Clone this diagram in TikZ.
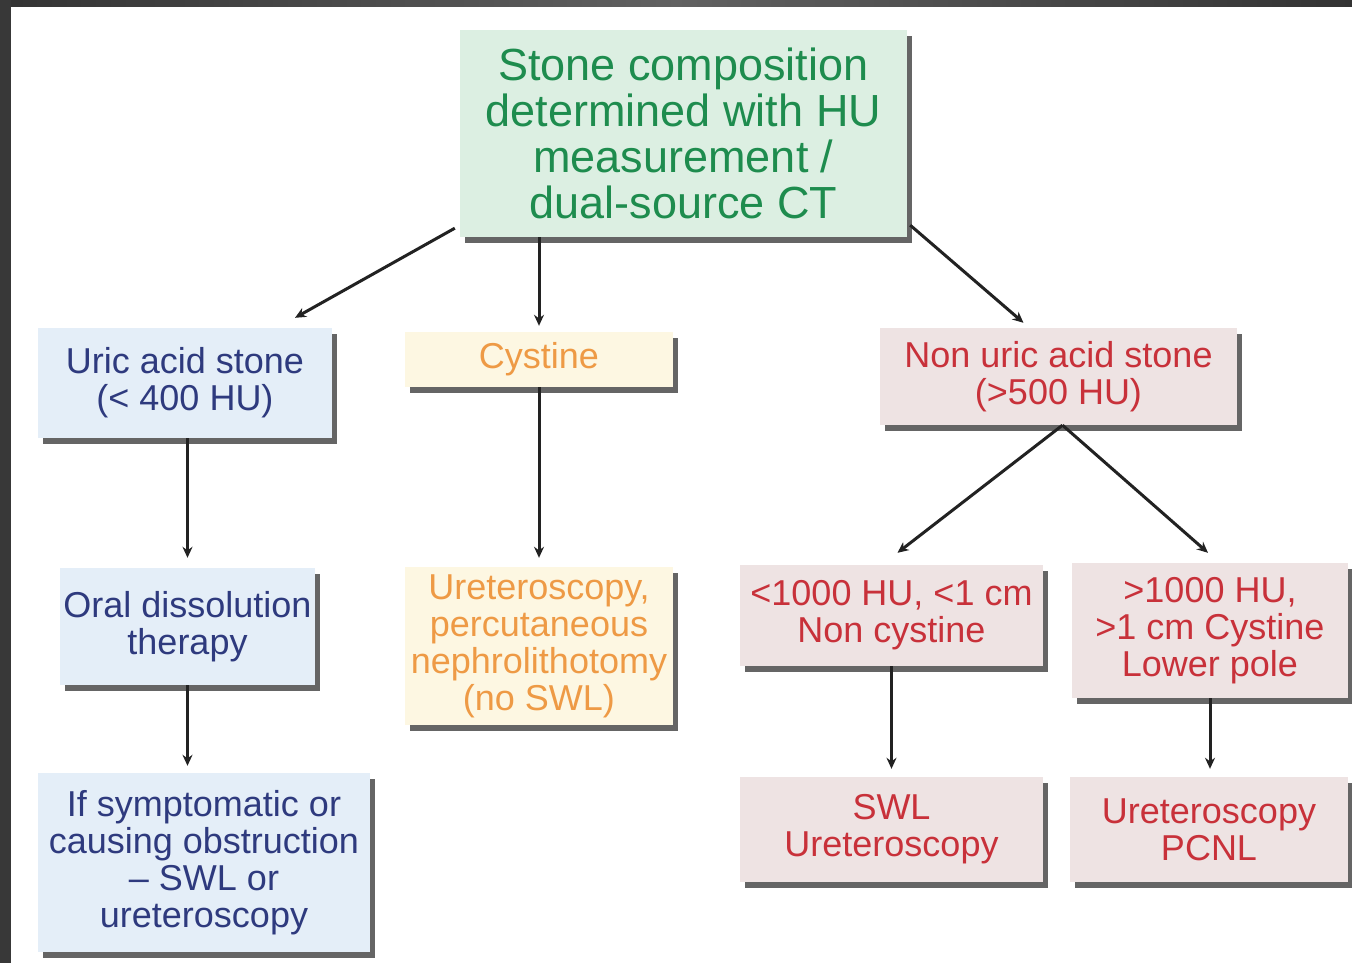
\documentclass[tikz,border=0pt]{standalone}
\usepackage{fontspec}
\setmainfont{Liberation Sans}
\usetikzlibrary{shadows,arrows.meta}
\definecolor{gfill}{HTML}{DCEFE2}
\definecolor{gtext}{HTML}{1E8C4E}
\definecolor{bfill}{HTML}{E4EEF8}
\definecolor{btext}{HTML}{2E3A7E}
\definecolor{yfill}{HTML}{FDF7E2}
\definecolor{ytext}{HTML}{EE9A45}
\definecolor{rfill}{HTML}{EEE3E3}
\definecolor{rtext}{HTML}{C8313A}
\definecolor{shade}{HTML}{555555}
\definecolor{linec}{HTML}{222222}
\tikzset{
  box/.style={rectangle, inner sep=0pt, align=center,
    font=\fontsize{36}{37}\selectfont,
    drop shadow={shadow xshift=5pt, shadow yshift=-6pt, fill=shade, opacity=0.9}},
  gbox/.style={box, fill=gfill, text=gtext, font=\fontsize{45}{46}\selectfont},
  bbox/.style={box, fill=bfill, text=btext},
  ybox/.style={box, fill=yfill, text=ytext},
  rbox/.style={box, fill=rfill, text=rtext},
  conn/.style={draw=linec, line width=3pt, -{Stealth[length=11pt,width=10pt]}},
}
\begin{document}
\begin{tikzpicture}[x=1pt,y=-1pt]
\useasboundingbox (0,0) rectangle (1352,963);
\fill[white] (0,0) rectangle (1352,963);
% frame bands
\shade[left color=black!80, right color=black!80, middle color=black!62] (0,0) rectangle (1352,7);
\fill[black!78] (0,0) rectangle (11,963);

\node[gbox, minimum width=447pt, minimum height=207pt] (top) at (683.5,133.5)
  {Stone composition\\determined with HU\\measurement /\\dual-source CT};
\node[bbox, minimum width=294pt, minimum height=110pt] (uric) at (185,383)
  {Uric acid stone\\(< 400 HU)};
\node[ybox, minimum width=268pt, minimum height=55pt] (cys) at (539,359.5)
  {Cystine};
\node[rbox, minimum width=357pt, minimum height=97pt] (nonuric) at (1058.5,376.5)
  {Non uric acid stone\\(>500 HU)};
\node[bbox, minimum width=255pt, minimum height=117pt] (oral) at (187.5,626.5)
  {Oral dissolution\\therapy};
\node[ybox, minimum width=268pt, minimum height=158pt] (ureto) at (539,646)
  {Ureteroscopy,\\percutaneous\\nephrolithotomy\\(no SWL)};
\node[bbox, minimum width=332pt, minimum height=179pt] (ifsym) at (204,862.5)
  {If symptomatic or\\causing obstruction\\– SWL or\\ureteroscopy};
\node[rbox, minimum width=303pt, minimum height=101pt] (lt) at (891.5,615.5)
  {<1000 HU, <1 cm\\Non cystine};
\node[rbox, minimum width=276pt, minimum height=135pt] (gt) at (1210,630.5)
  {>1000 HU,\\>1 cm Cystine\\Lower pole};
\node[rbox, minimum width=303pt, minimum height=105pt] (swl) at (891.5,829.5)
  {SWL\\Ureteroscopy};
\node[rbox, minimum width=278pt, minimum height=105pt] (pcnl) at (1209,829.5)
  {Ureteroscopy\\PCNL};

% connectors
\draw[conn] ([shift={(-5pt,9pt)}]top.south west) -- ([shift={(110pt,10pt)}]uric.north);
\draw[conn] (top.south -| cys.north) -- ([yshift=6pt]cys.north);
\draw[conn] ([shift={(3pt,12pt)}]top.south east) -- ([shift={(-35pt,5pt)}]nonuric.north);
\draw[conn] (uric.south -| oral.north) -- ([yshift=10pt]oral.north);
\draw[conn] (oral.south) -- ([yshift=7pt]oral.south |- ifsym.north);
\draw[conn] (cys.south) -- ([yshift=9pt]ureto.north);
\draw[conn] ([xshift=4pt]nonuric.south) -- ([shift={(6pt,12pt)}]lt.north);
\draw[conn] ([xshift=4pt]nonuric.south) -- ([shift={(-2pt,10pt)}]gt.north);
\draw[conn] (lt.south -| swl.north) -- ([yshift=8pt]swl.north);
\draw[conn] (gt.south) -- ([yshift=8pt]gt.south |- pcnl.north);
\end{tikzpicture}
\end{document}
